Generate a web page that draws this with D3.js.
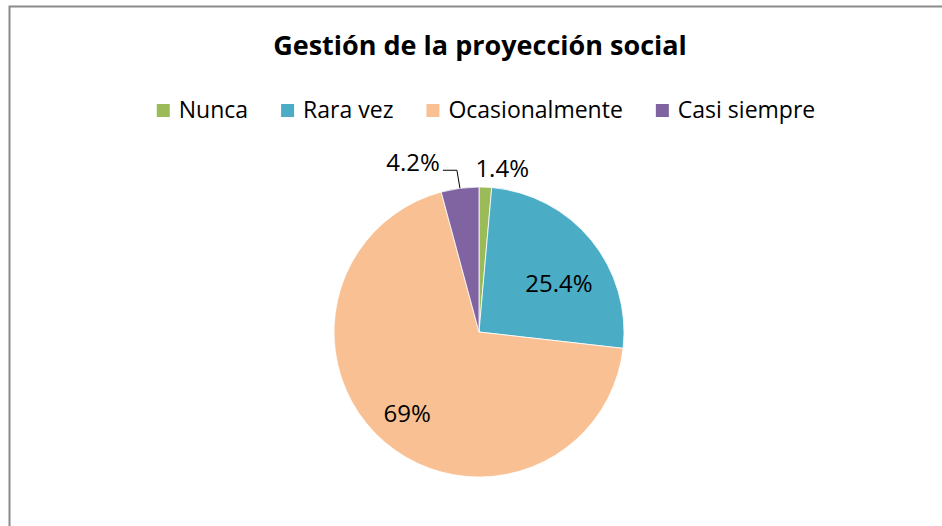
<!DOCTYPE html>
<html>
<head>
<meta charset="utf-8">
<script src="https://cdn.jsdelivr.net/npm/d3@7"></script>
<style>
  body { margin: 0; background: #fff; }
  svg { display: block; font-family: "Open Sans", sans-serif; }
</style>
</head>
<body>
<script>
// chart data
const categories = ["Nunca", "Rara vez", "Ocasionalmente", "Casi siempre"];
const values = [1.4, 25.4, 69, 4.2];
const labels = ["1.4%", "25.4%", "69%", "4.2%"];
const colours = ["#9BBB59", "#4BACC6", "#F9C093", "#8064A2"];
const title = "Gestión de la proyección social";

// SVG dimensions
const width = 942, height = 526;
const cx = 479, cy = 332, radius = 145;

const svg = d3.select("body").append("svg")
    .attr("width", width)
    .attr("height", height);

// chart area border (right and bottom fall outside the window)
svg.append("rect")
    .attr("x", 9.5).attr("y", 6.5)
    .attr("width", 1000).attr("height", 1000)
    .attr("fill", "none")
    .attr("stroke", "#8a8a8a")
    .attr("stroke-width", 2);

// title
svg.append("text")
    .attr("x", 480).attr("y", 55)
    .attr("text-anchor", "middle")
    .attr("font-size", 27)
    .attr("font-weight", "bold")
    .text(title);

// legend
const legend = svg.append("g");
let lx = 0;
categories.forEach((c, i) => {
    let item = legend.append("g").attr("transform", `translate(${lx},0)`);
    item.append("rect")
        .attr("x", 0).attr("y", -14)
        .attr("width", 13).attr("height", 13)
        .attr("fill", colours[i]);
    let t = item.append("text")
        .attr("x", 22).attr("y", 0)
        .attr("font-size", 23)
        .text(c);
    lx += 22 + t.node().getComputedTextLength() + 33;
});
lx -= 33;
legend.attr("transform", `translate(${486 - lx / 2}, 118)`);

// pie
const pie = d3.pie().sort(null).value(d => d);
const arcs = pie(values);
const arc = d3.arc().innerRadius(0).outerRadius(radius);

const g = svg.append("g").attr("transform", `translate(${cx},${cy})`);
g.selectAll("path")
    .data(arcs)
    .join("path")
    .attr("d", arc)
    .attr("fill", (d, i) => colours[i])
    .attr("stroke", "#fff")
    .attr("stroke-width", 0.8);

// labels: big slices inside, small ones outside
const insideR = [0, 0.64, 0.76, 0];
const nudge = [[0, 0], [8, 10], [0, -2], [0, 0]];
arcs.forEach((d, i) => {
    if (insideR[i] > 0) {
        let a = (d.startAngle + d.endAngle) / 2, r = radius * insideR[i];
        g.append("text")
            .attr("x", r * Math.sin(a) + nudge[i][0])
            .attr("y", -r * Math.cos(a) + nudge[i][1])
            .attr("dy", "0.35em")
            .attr("text-anchor", "middle")
            .attr("font-size", 24)
            .text(labels[i]);
    }
});

// 1.4% label just above its slice
{
    let d = arcs[0], a = (d.startAngle + d.endAngle) / 2;
    g.append("text")
        .attr("x", radius * Math.sin(a) - 10)
        .attr("y", -radius * Math.cos(a) - 10)
        .attr("text-anchor", "start")
        .attr("font-size", 24)
        .text(labels[0]);
}

// 4.2% label with leader line
{
    let d = arcs[3], a = (d.startAngle + d.endAngle) / 2;
    let px = radius * Math.sin(a), py = -radius * Math.cos(a);
    let ex = px - 3, ey = py - 18;
    g.append("path")
        .attr("d", d3.line()([[px, py], [ex, ey], [ex - 14, ey]]))
        .attr("fill", "none")
        .attr("stroke", "#000")
        .attr("stroke-width", 1);
    g.append("text")
        .attr("x", ex - 17)
        .attr("y", ey + 1)
        .attr("text-anchor", "end")
        .attr("font-size", 24)
        .text(labels[3]);
}
</script>
</body>
</html>
